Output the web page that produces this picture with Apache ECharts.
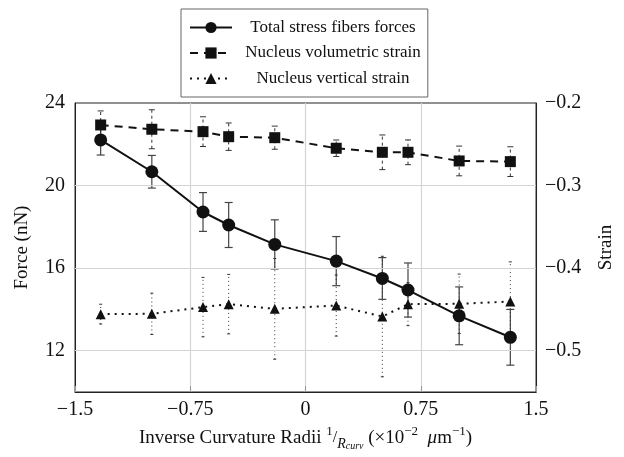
<!DOCTYPE html>
<html>
<head>
<meta charset="utf-8">
<script src="https://cdn.jsdelivr.net/npm/echarts@6/dist/echarts.min.js"></script>
<style>
html,body{margin:0;padding:0;background:#fff;}
#chart{width:624px;height:457px;}
</style>
</head>
<body>
<div id="chart"></div>
<script>
// ---- data ----
const xValues = [-1.333, -1, -0.667, -0.5, -0.2, 0.2, 0.5, 0.667, 1, 1.333];
const forceMean = [22.21, 20.67, 18.72, 18.09, 17.15, 16.34, 15.50, 14.94, 13.69, 12.65];
const forceErr = [0.73, 0.79, 0.94, 1.09, 1.19, 1.19, 1.01, 1.31, 1.40, 1.35];
const volStrain = [-0.2266, -0.2318, -0.2347, -0.2408, -0.2420, -0.2548, -0.2597, -0.2597, -0.2702, -0.2710];
const volErr = [0.017, 0.0236, 0.018, 0.0166, 0.014, 0.010, 0.021, 0.015, 0.018, 0.018];
const vertStrain = [-0.4557, -0.4553, -0.4472, -0.4436, -0.4493, -0.4453, -0.4586, -0.4436, -0.4432, -0.4404];
const vertErr = [0.012, 0.025, 0.036, 0.036, 0.061, 0.037, 0.073, 0.026, 0.036, 0.048];
const seriesNames = ['Total stress fibers forces', 'Nucleus volumetric strain', 'Nucleus vertical strain'];
const xTicks = [-1.5, -0.75, 0, 0.75, 1.5];
const forceTicks = [12, 16, 20, 24];
const strainTicks = [-0.5, -0.4, -0.3, -0.2];

const FONT = '"Liberation Serif", "DejaVu Serif", serif';
const fmtMinus = v => String(v).replace('-', '\u2212');

const pairs = (ys) => xValues.map((x, i) => [x, ys[i]]);
const errData = (ys, es) => xValues.map((x, i) => [x, ys[i] - es[i], ys[i] + es[i]]);

function errRender(cap, lineStyle, capStyle) {
  return function (params, api) {
    const x = api.value(0);
    const p1 = api.coord([x, api.value(1)]);
    const p2 = api.coord([x, api.value(2)]);
    return {
      type: 'group',
      children: [
        { type: 'line', shape: { x1: p1[0], y1: p1[1], x2: p2[0], y2: p2[1] }, style: lineStyle },
        { type: 'line', shape: { x1: p1[0] - cap, y1: p1[1], x2: p1[0] + cap, y2: p1[1] }, style: capStyle },
        { type: 'line', shape: { x1: p2[0] - cap, y1: p2[1], x2: p2[0] + cap, y2: p2[1] }, style: capStyle }
      ]
    };
  };
}

const chart = echarts.init(document.getElementById('chart'), null, { renderer: 'canvas' });
chart.setOption({
  animation: false,
  backgroundColor: '#fff',
  textStyle: { fontFamily: FONT, color: '#111' },
  grid: { left: 75, right: 83, top: 103, bottom: 65, show: true, borderColor: '#222', borderWidth: 1, backgroundColor: 'transparent' },
  legend: {
    data: seriesNames,
    orient: 'vertical',
    left: 181,
    top: 9,
    padding: [10, 7, 10, 8],
    itemGap: 8.5,
    itemWidth: 42,
    itemHeight: 14,
    borderColor: '#666',
    borderWidth: 1,
    formatter: name => '{t|' + name + '}',
    textStyle: {
      rich: { t: { width: 192, align: 'center', fontSize: 17, fontFamily: FONT, color: '#111' } }
    }
  },
  xAxis: {
    type: 'value',
    min: -1.5, max: 1.5, interval: 0.75,
    axisLine: { show: true, onZero: false, lineStyle: { color: '#222', width: 1 } },
    axisTick: { show: true, inside: true, length: 6, lineStyle: { color: '#999' } },
    splitLine: { show: true, lineStyle: { color: '#d4d4d4', width: 1.2 } },
    axisLabel: {
      fontSize: 20, fontFamily: FONT, color: '#111', margin: 8,
      customValues: xTicks,
      formatter: v => fmtMinus(v)
    },
    nameLocation: 'middle',
    nameGap: 30,
    name: '{n|Inverse Curvature Radii }{sup|1}{sl|/}{it|R}{sub|curv}{n| (\u00d710}{sup|\u22122}{n|  }{mu|\u03bc}{n|m}{sup|\u22121}{n|)}',
    nameTextStyle: {
      rich: {
        n: { fontSize: 19, fontFamily: FONT, color: '#111', lineHeight: 26 },
        sup: { fontSize: 13, fontFamily: FONT, color: '#111', lineHeight: 13, verticalAlign: 'top' },
        sl: { fontSize: 16, fontFamily: FONT, color: '#111', lineHeight: 26 },
        it: { fontSize: 14, fontStyle: 'italic', fontFamily: FONT, color: '#111', lineHeight: 22, verticalAlign: 'bottom' },
        sub: { fontSize: 10, fontStyle: 'italic', fontFamily: FONT, color: '#111', lineHeight: 12, verticalAlign: 'bottom' },
        mu: { fontSize: 19, fontStyle: 'italic', fontFamily: FONT, color: '#111', lineHeight: 26 }
      }
    }
  },
  yAxis: [
    {
      type: 'value',
      min: 10, max: 24, interval: 2,
      position: 'left',
      axisLine: { show: true, onZero: false, lineStyle: { color: '#222', width: 1 } },
      axisTick: { show: false },
      splitLine: { show: false },
      axisLabel: {
        fontSize: 20, fontFamily: FONT, color: '#111', margin: 10,
        formatter: v => (forceTicks.indexOf(v) >= 0 ? String(v) : '')
      },
      name: 'Force (nN)',
      nameLocation: 'middle',
      nameRotate: 90,
      nameGap: 43,
      nameTextStyle: { fontSize: 19, fontFamily: FONT, color: '#111' }
    },
    {
      type: 'value',
      min: -0.55, max: -0.2, interval: 0.05,
      position: 'right',
      axisLine: { show: true, onZero: false, lineStyle: { color: '#222', width: 1 } },
      axisTick: { show: false },
      splitLine: { show: false },
      axisLabel: {
        fontSize: 20, fontFamily: FONT, color: '#111', margin: 9,
        formatter: v => {
          const hit = strainTicks.find(t => Math.abs(t - v) < 1e-6);
          return hit !== undefined ? fmtMinus(hit.toFixed(1)) : '';
        }
      },
      name: 'Strain',
      nameLocation: 'middle',
      nameRotate: 90,
      nameGap: 61,
      nameTextStyle: { fontSize: 19, fontFamily: FONT, color: '#111' }
    }
  ],
  series: [
    {
      type: 'line', name: '__grid', yAxisIndex: 0, data: [], silent: true,
      markLine: {
        silent: true, symbol: 'none', label: { show: false },
        lineStyle: { color: '#d4d4d4', width: 1.2, type: 'solid' },
        data: forceTicks.filter(t => t < 24).map(t => ({ yAxis: t }))
      },
      z: 0
    },
    {
      type: 'custom', name: 'forceErr', yAxisIndex: 0, z: 2,
      data: errData(forceMean, forceErr),
      encode: { x: 0, y: [1, 2] },
      renderItem: errRender(4, { stroke: '#444', lineWidth: 1.2 }, { stroke: '#444', lineWidth: 1.2 })
    },
    {
      type: 'custom', name: 'volErr', yAxisIndex: 1, z: 2,
      data: errData(volStrain, volErr),
      encode: { x: 0, y: [1, 2] },
      renderItem: errRender(3, { stroke: '#333', lineWidth: 1, lineDash: [3, 3] }, { stroke: '#333', lineWidth: 1 })
    },
    {
      type: 'custom', name: 'vertErr', yAxisIndex: 1, z: 2,
      data: errData(vertStrain, vertErr),
      encode: { x: 0, y: [1, 2] },
      renderItem: errRender(1.5, { stroke: '#333', lineWidth: 1, lineDash: [1, 3] }, { stroke: '#333', lineWidth: 1 })
    },
    {
      type: 'line', name: seriesNames[0], yAxisIndex: 0, z: 5,
      data: pairs(forceMean),
      symbol: 'circle', symbolSize: 13,
      lineStyle: { color: '#111', width: 2, type: 'solid' },
      itemStyle: { color: '#111' }
    },
    {
      type: 'line', name: seriesNames[1], yAxisIndex: 1, z: 5,
      data: pairs(volStrain),
      symbol: 'rect', symbolSize: 11,
      lineStyle: { color: '#111', width: 2, type: [8, 6] },
      itemStyle: { color: '#111' }
    },
    {
      type: 'line', name: seriesNames[2], yAxisIndex: 1, z: 5,
      data: pairs(vertStrain),
      symbol: 'triangle', symbolSize: 10,
      lineStyle: { color: '#111', width: 2, type: [2, 5] },
      itemStyle: { color: '#111' }
    }
  ]
});
</script>
</body>
</html>
